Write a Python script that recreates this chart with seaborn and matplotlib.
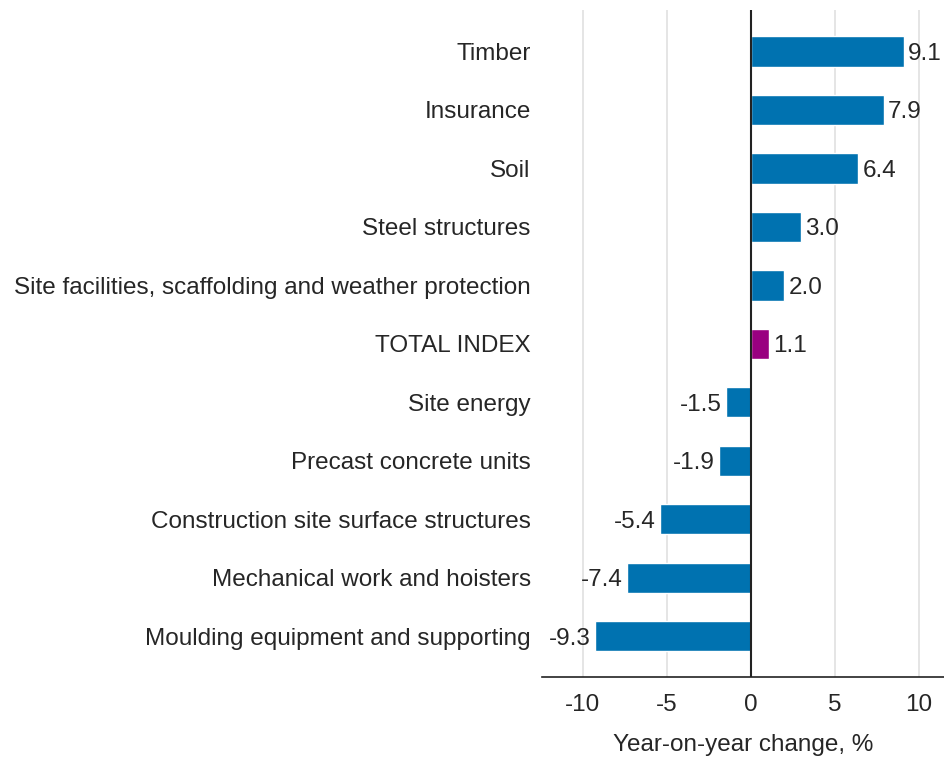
import matplotlib
matplotlib.use('Agg')
import pandas as pd
import seaborn as sns
from matplotlib import pyplot as plt

categories = [
    'Timber',
    'Insurance',
    'Soil',
    'Steel structures',
    'Site facilities, scaffolding and weather protection',
    'TOTAL INDEX',
    'Site energy',
    'Precast concrete units',
    'Construction site surface structures',
    'Mechanical work and hoisters',
    'Moulding equipment and supporting',
]
values = [9.1, 7.9, 6.4, 3.0, 2.0, 1.1, -1.5, -1.9, -5.4, -7.4, -9.3]
highlight = 'TOTAL INDEX'

BLUE = '#0072b0'
PURPLE = '#990080'
TEXT = '#262626'
FS = 17.5

sns.set_style('white')
plt.rcParams['font.family'] = ['Liberation Sans', 'DejaVu Sans']
plt.rcParams['axes.unicode_minus'] = False

df = pd.DataFrame({'category': categories, 'value': values})
palette = {c: (PURPLE if c == highlight else BLUE) for c in categories}

fig = plt.figure(figsize=(9.44, 7.60), dpi=100)
ax = fig.add_axes([0.574, 0.109, 0.426, 0.878])

sns.barplot(data=df, x='value', y='category', hue='category', palette=palette,
            order=categories, width=0.52, saturation=1, legend=False, ax=ax, zorder=2)

ax.set_xlim(-12.45, 11.5)
ax.set_ylim(len(categories) - 0.3, -0.71)
ax.set_xticks([-10, -5, 0, 5, 10])
ax.grid(axis='x', color='#e0e0e0', linewidth=1.2, zorder=0)
ax.axvline(0, color='#222222', linewidth=1.5, zorder=3)

for side in ['top', 'right', 'left']:
    ax.spines[side].set_visible(False)
ax.spines['bottom'].set_color('#222222')
ax.spines['bottom'].set_linewidth(1.2)

ax.tick_params(axis='y', length=0, pad=8, labelsize=FS, labelcolor=TEXT)
ax.tick_params(axis='x', length=0, pad=12, labelsize=FS, labelcolor=TEXT)
ax.set_ylabel('')
ax.set_xlabel('Year-on-year change, %', fontsize=FS, color=TEXT, labelpad=13)

# value labels next to bar ends
for i, v in enumerate(values):
    off, ha = (3, 'left') if v >= 0 else (-3, 'right')
    ax.annotate(f'{v:.1f}', (v, i), xytext=(off, 0), textcoords='offset points',
                ha=ha, va='center_baseline', fontsize=FS, color=TEXT)

fig.savefig('out.png', dpi=100)
